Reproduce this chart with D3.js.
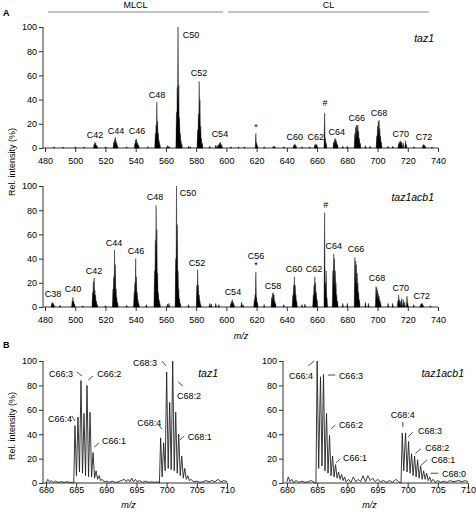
<!DOCTYPE html>
<html><head><meta charset="utf-8">
<script src="https://cdn.jsdelivr.net/npm/d3@7"></script>
<style>body{margin:0;background:#fff}svg{display:block}text{font-family:"Liberation Sans",Arial,sans-serif;fill:#000}</style>
</head><body><svg id="c" width="476" height="515"></svg>
<script>
// ---------- DATA ----------
const ticksA = [480,500,520,540,560,580,600,620,640,660,680,700,720,740];
const ticksB = [680,685,690,695,700,705,710];
const ticksY = [0,20,40,60,80,100];

// Panel A, taz1: peak sticks [m/z, rel. intensity]
const taz1Sticks = [
 [486,1],[492,0.8],[500,1],[506,0.8],[520,1],[534,1],[548,1.2],[561,2],[562,1.5],[575,1.5],[576,1],[589,1.5],[593,2.5],[594,2],[603,1],[608,1],[612,1],[625,1],[631,1.5],[632,1.5],[638,1],[650,1],[655,1],[677,1.5],[680,1.5],[692,2],[695,1.5],[707,1.5],[710,1.5],[724,1],[736,0.8],
 [512.5,3],[513,5],[513.5,4],[514,2.5],[514.5,1.5],
 [525.5,5],[526,7],[526.5,9],[527,6],[527.5,4],[528,2],
 [539.5,4],[540,7],[540.5,7.5],[541,5],[541.5,3],[542,2],
 [553,12],[553.5,19],[554,38],[554.5,22],[555,12],[555.5,6],[556,3],
 [567,30],[567.5,50],[568,100],[568.5,52],[569,25],[569.5,12],[570,6],[570.5,3],
 [581,15],[581.5,28],[582,55],[582.5,40],[583,18],[583.5,8],[584,4],
 [595,3],[595.5,4],[596,5],[596.5,3],[597,2],
 [619.5,12],[620,4],[620.5,2],
 [644.5,2],[645,3],[645.5,3],[646,2],
 [658.5,2.5],[659,3.5],[659.5,3],[660,2],
 [665,29],[665.5,8],[666,4],
 [671,5],[671.5,7],[672,8],[672.5,7],[673,5],[673.5,3],
 [685,12],[685.5,17],[686,19],[686.5,18],[687,19],[687.5,14],[688,8],[688.5,4],
 [699.5,10],[700,18],[700.5,22],[701,23],[701.5,16],[702,10],[702.5,5],
 [714,4],[714.5,5],[715,6],[715.5,5],[716,5],[717,4],[718.5,6],[719,3],
 [730,2],[730.5,3],[731,2.5],[731.5,1.5]
];
// Panel A, taz1acb1
const taz1acb1Sticks = [
 [490,1.5],[505,1],[520,1.2],[534,1.5],[547,2],[561,2.5],[562,3],[575,2],[589,3],[590,2.5],[593,3],[595,2],[610,4],[611,2],[625,2],[638,2],[650,2],[652,2.5],[677,3],[680,3],[692,4],[694,3],[707,3],[710,3],[724,2],[735,1],
 [484.5,3],[485,4],[485.5,3],[486,1.5],
 [498,5],[498.5,8],[499,5],[499.5,2.5],
 [511.5,12],[512,21],[512.5,24],[513,14],[513.5,10],[514,5],[514.5,2],
 [525,15],[525.5,25],[526,47],[526.5,35],[527,15],[527.5,8],[528,4],
 [539,12],[539.5,20],[540,40],[540.5,25],[541,12],[541.5,6],[542,3],
 [552.5,30],[553,55],[553.5,84],[554,64],[554.5,28],[555,12],[555.5,6],[556,3],
 [566.5,40],[567,100],[567.5,68],[568,30],[568.5,15],[569,7],[569.5,3],
 [580.5,18],[581,31],[581.5,18],[582,10],[582.5,5],[583,2],
 [603,3],[603.5,5],[604,6],[604.5,4],[605,2],
 [618.5,6],[619,10],[619.5,29],[620,8],[620.5,4],
 [630,8],[630.5,11],[631,12],[631.5,10],[632,5],[632.5,3],
 [644,10],[644.5,18],[645,25],[645.5,18],[646,10],[646.5,5],
 [657.5,10],[658,18],[658.5,25],[659,20],[659.5,12],[660,6],
 [665,78],[665.5,20],[666,30],[666.5,8],
 [670.5,30],[671,44],[671.5,40],[672,30],[672.5,20],[673,10],[673.5,5],
 [685,41],[685.5,38],[686,35],[686.5,28],[687,20],[687.5,12],[688,6],
 [699,17],[699.5,16],[700,14],[700.5,11],[701,9],[701.5,6],[702,4],
 [713.5,5],[714,10],[714.5,6],[715,5],[716,7],[717,6],[718,4],[719.5,9],[720,3],
 [728.5,2],[729,3],[729.5,3],[730,2]
];
// Peak labels [text, m/z, rel. intensity of label centre]
const taz1Labels = [["C42",513.1,10.7],["C44",527,14],["C46",540.8,14],["C48",554.1,43.8],["C50",576.6,93.4],["C52",581.9,62],["C54",595.7,11.6],["*",619.6,17.4],["C60",645.3,9.1],["C62",659.2,9.1],["#",665.2,37.2],["C64",673.1,13.2],["C66",686.3,24.8],["C68",700.9,28.9],["C70",715.4,11.6],["C72",730.7,9.1]];
const taz1acb1Labels = [["C38",485.3,10.7],["C40",498.5,14.9],["C42",512.4,29.8],["C44",525.6,52.9],["C46",540.2,46.3],["C48",552.8,90.9],["C50",574.6,94.2],["C52",580.5,36.4],["C54",604.3,12.4],["C56",619.6,42.1],["*",619.6,34.7],["C58",630.8,17.4],["C60",644.7,31.4],["C62",657.9,31.4],["#",665.8,84.3],["C64",671.1,50.4],["C66",685.7,47.9],["C68",699.6,24],["C70",715.4,15.7],["C72",729.3,9.1]];
const regionNames = [["MLCL",482,597.7],["CL",601,734]];

// Panel B profiles [m/z, rel. intensity]
const bTaz1 = [[680,0],[680.3,3],[680.6,1],[680.9,2],[681.2,0.5],[681.6,1.5],[682,0.5],[682.5,1],[683,0.5],[683.5,1],[684,0.5],[684.4,0.5],[684.6,0],[684.8,47],[685.05,6],[685.3,54],[685.55,9],[685.8,84],[686.05,8],[686.3,57],[686.55,6],[686.8,80],[687.05,5],[687.3,58],[687.55,5],[687.8,25],[688.05,4],[688.3,10],[688.55,3],[688.8,6],[689.05,2],[689.3,3],[689.6,1],[690,1.5],[690.5,0.5],[691,1.5],[691.5,0.5],[692,1],[692.5,2],[693,3],[693.3,1],[693.6,3],[693.9,1],[694.2,4],[694.5,1],[694.8,3],[695.1,1],[695.5,2],[696,0.5],[696.5,1.5],[697,0.5],[697.5,1],[698,0.5],[698.5,1],[698.8,0],[699.0,37],[699.25,5],[699.5,33],[699.75,10],[700.0,91],[700.25,12],[700.5,66],[700.75,11],[701.0,100],[701.25,10],[701.5,58],[701.75,8],[702.0,40],[702.25,6],[702.5,22],[702.75,4],[703.0,12],[703.25,3],[703.5,6],[703.75,2],[704,3],[704.5,1],[705,1.5],[705.5,0.5],[706,1],[706.5,2],[707,1],[707.5,2],[708,1],[708.5,3],[709,1],[709.5,2],[710,1]];
const bTaz1acb1 = [[680,1],[680.2,5],[680.5,1],[680.8,3],[681.1,0.5],[681.5,2],[682,0.5],[682.5,1.5],[683,0.5],[683.5,1],[684,2],[684.5,0.5],[684.8,0],[685.0,100],[685.25,12],[685.55,87],[685.8,14],[686.05,89],[686.3,10],[686.55,57],[686.8,8],[687.05,39],[687.3,6],[687.55,22],[687.8,5],[688.05,15],[688.3,4],[688.55,9],[688.8,3],[689.05,7],[689.3,2],[689.55,5],[689.8,1],[690.2,3],[690.6,0.5],[691,5],[691.4,1],[691.8,3],[692.2,1],[692.6,6],[693,1],[693.4,6],[693.8,2],[694.2,4],[694.6,1],[695,3],[695.5,1],[696,2],[696.5,0.5],[697,2],[697.5,0.5],[698,3],[698.5,1],[698.9,0],[699.1,41],[699.35,10],[699.65,41],[699.9,9],[700.15,34],[700.4,8],[700.65,24],[700.9,6],[701.15,22],[701.4,5],[701.65,19],[701.9,4],[702.15,14],[702.4,3],[702.65,10],[702.9,3],[703.15,8],[703.4,2],[703.65,5],[703.9,1],[704.2,3],[704.6,0.5],[705,2],[705.5,0.5],[706,1.5],[706.5,0.5],[707,2],[707.5,1],[708,1.5],[708.5,2],[709,1],[709.5,2],[710,1]];
// B labels: [text, m/z, y, anchor, leader x1, y1, x2, y2]
const bTaz1Labels = [
 ["C66:3",684.5,89.3,"end",685.1,91,685.97,87.7],
 ["C66:2",688.5,89.3,"start",687.0,84.4,687.8,87.7],
 ["C66:4",684.3,52.5,"end",684.3,54.9,684.8,50.8],
 ["C66:1",689.3,34.4,"start",688.0,29.5,688.8,32.8],
 ["C68:3",698.4,98.4,"end",699.2,100,699.9,95.9],
 ["C68:2",701.7,71.3,"start",701.9,82.8,702.7,79.5],
 ["C68:4",699.1,49.2,"end",698.7,47.5,699.2,44.3],
 ["C68:1",703.5,37.7,"start",702.2,35.2,702.9,38.5]
];
const bTaz1acb1Labels = [
 ["C66:4",684.3,87.7,"end",683.5,95.9,684.5,100],
 ["C66:3",688.6,87.7,"start",686.8,88.5,688.0,88.5],
 ["C66:2",688.6,47.5,"start",687.3,44.3,688.0,47.5],
 ["C66:1",689.3,20.5,"start",688.1,16.4,688.8,19.7],
 ["C68:4",699.2,55.7,"middle",699.2,50,699.2,45.9],
 ["C68:3",701.7,42.6,"start",700.1,38,700.9,41.8],
 ["C68:2",702.9,28.7,"start",701.3,24.3,702.2,28.1],
 ["C68:1",703.9,18.9,"start",702.2,14.5,703.2,18.9],
 ["C68:0",705.7,7.4,"start",703.8,8,705.1,8]
];

// ---------- DRAW ----------
const svg = d3.select("#c");
const FS = 9;
const axisCol = "#333";

const xA = d3.scaleLinear([480,740],[45,438]);
const yTop = d3.scaleLinear([0,100],[148,27]);
const yBot = d3.scaleLinear([0,100],[307,186]);
const xBL = d3.scaleLinear([680,710],[46,227]);
const xBR = d3.scaleLinear([680,710],[287,468]);
const yB = d3.scaleLinear([0,100],[483,361]);

function axes(x, y, ticksX, yAxisX, labPad) {
  const g = svg.append("g");
  const y0 = y(0);
  const gx = g.append("g").attr("transform",`translate(0,${y0})`)
    .call(d3.axisBottom(x).tickValues(ticksX).tickSize(4).tickPadding(labPad).tickFormat(d3.format("d")));
  gx.select(".domain").remove();
  gx.selectAll("line").attr("stroke",axisCol);
  gx.selectAll("text").style("font-size",FS+"px").attr("fill","#000");
  g.append("line").attr("x1",yAxisX).attr("x2",x.range()[1]).attr("y1",y0).attr("y2",y0).attr("stroke",axisCol);
  const gy = g.append("g").attr("transform",`translate(${yAxisX},0)`)
    .call(d3.axisLeft(y).tickValues(ticksY).tickSize(4).tickPadding(2));
  gy.select(".domain").remove();
  gy.selectAll("line").attr("stroke",axisCol);
  gy.selectAll("text").style("font-size",FS+"px").attr("fill","#000");
  g.append("line").attr("x1",yAxisX).attr("x2",yAxisX).attr("y1",y(0)).attr("y2",y(100)).attr("stroke",axisCol);
}

function sticks(data, x, y, hw) {
  const p = data.map(([m,v]) => `M${x(m-hw)},${y(0)}L${x(m)},${y(v)}L${x(m+hw)},${y(0)}Z`).join("");
  svg.append("path").attr("d",p).attr("fill","#000").attr("stroke","#000").attr("stroke-width",0.4);
}

function peakLabels(labels, x, y) {
  svg.append("g").selectAll("text").data(labels).join("text")
    .attr("x",d=>x(d[1])).attr("y",d=>y(d[2])).attr("dy","0.35em")
    .attr("text-anchor","middle").style("font-size",FS+"px").text(d=>d[0]);
}

// Panel A
axes(xA, yTop, ticksA, 43, 6);
axes(xA, yBot, ticksA, 43, 6);
sticks(taz1Sticks, xA, yTop, 0.42);
sticks(taz1acb1Sticks, xA, yBot, 0.42);
peakLabels(taz1Labels, xA, yTop);
peakLabels(taz1acb1Labels, xA, yBot);

regionNames.forEach(([t,a,b]) => {
  svg.append("line").attr("x1",xA(a)).attr("x2",xA(b)).attr("y1",12).attr("y2",12).attr("stroke","#888").attr("stroke-width",1);
  svg.append("text").attr("x",(xA(a)+xA(b))/2).attr("y",8).attr("text-anchor","middle").style("font-size",FS+"px").text(t);
});

svg.append("text").attr("x",434).attr("y",38).attr("dy","0.35em").attr("text-anchor","end").style("font-size","10.5px").style("font-style","italic").text("taz1");
svg.append("text").attr("x",434).attr("y",197).attr("dy","0.35em").attr("text-anchor","end").style("font-size","10.5px").style("font-style","italic").text("taz1acb1");
svg.append("text").attr("x",12).attr("y",162).attr("transform","rotate(-90,12,162)").attr("dy","0.35em").attr("text-anchor","middle").style("font-size",FS+"px").text("Rel. intensity (%)");
svg.append("text").attr("x",241).attr("y",336).attr("dy","0.35em").attr("text-anchor","middle").style("font-size",FS+"px").style("font-style","italic").text("m/z");
svg.append("text").attr("x",3).attr("y",13).attr("dy","0.35em").style("font-size","9px").style("font-weight","bold").text("A");
svg.append("text").attr("x",3).attr("y",345).attr("dy","0.35em").style("font-size","9px").style("font-weight","bold").text("B");

// Panel B
function panelB(data, labels, x, yAxisX, title) {
  axes(x, yB, ticksB, yAxisX, 0);
  svg.append("path").datum(data).attr("d", d3.line().x(d=>x(d[0])).y(d=>yB(d[1])))
    .attr("fill","none").attr("stroke","#222").attr("stroke-width",0.9).attr("stroke-linejoin","round");
  const g = svg.append("g");
  labels.forEach(l => {
    g.append("line").attr("x1",x(l[4])).attr("y1",yB(l[5])).attr("x2",x(l[6])).attr("y2",yB(l[7])).attr("stroke","#000").attr("stroke-width",0.7);
    g.append("text").attr("x",x(l[1])).attr("y",yB(l[2])).attr("dy","0.35em").attr("text-anchor",l[3]).style("font-size",FS+"px").text(l[0]);
  });
  svg.append("text").attr("x",x.range()[1]-(title==="taz1"?9:4)).attr("y",373).attr("dy","0.35em").attr("text-anchor","end").style("font-size","10.5px").style("font-style","italic").text(title);
  svg.append("text").attr("x",(x.range()[0]+x.range()[1])/2-8).attr("y",505).attr("dy","0.35em").attr("text-anchor","middle").style("font-size",FS+"px").style("font-style","italic").text("m/z");
}
panelB(bTaz1, bTaz1Labels, xBL, 43, "taz1");
panelB(bTaz1acb1, bTaz1acb1Labels, xBR, 283, "taz1acb1");
svg.append("text").attr("x",12).attr("y",426).attr("transform","rotate(-90,12,426)").attr("dy","0.35em").attr("text-anchor","middle").style("font-size",FS+"px").text("Rel. intensity (%)");
</script></body></html>
